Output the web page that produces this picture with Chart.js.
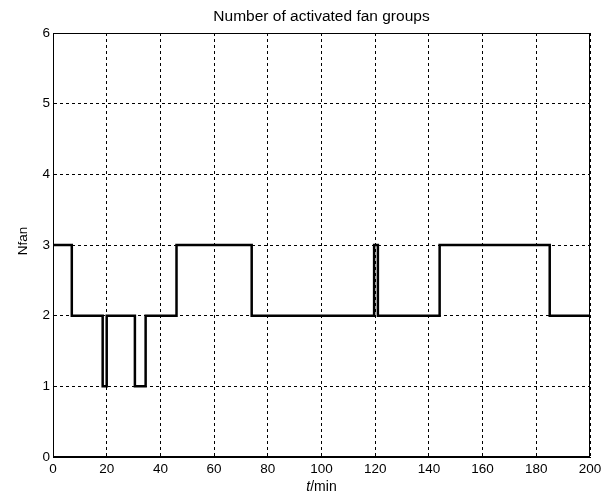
<!DOCTYPE html>
<html><head><meta charset="utf-8">
<script src="https://cdn.jsdelivr.net/npm/chart.js@4/dist/chart.umd.min.js"></script>
<style>html,body{margin:0;padding:0;background:#fff}#wrap{width:612px;height:498px}</style>
</head><body><div id="wrap"><canvas id="c" width="612" height="498"></canvas></div>
<script>
const changeTimes = [0, 7, 18.5, 20, 30.5, 34.5, 46, 74, 119.6, 121, 144, 185, 200];
const fanCounts  = [3, 2, 1, 2, 1, 2, 3, 2, 3, 2, 3, 2, 2];
const xTicks = [0,20,40,60,80,100,120,140,160,180,200];
const yTicks = [0,1,2,3,4,5,6];
const titleText = 'Number of activated fan groups';
const yLabel = 'Nfan';
const xLabelItalic = 't';
const xLabelRest = '/min';

const FONT = '"Liberation Sans", Arial, sans-serif';
const textPlugin = {
  id: 'texts',
  afterDraw(chart) {
    const ctx = chart.ctx, a = chart.chartArea;
    ctx.save();
    ctx.fillStyle = '#000';
    ctx.font = '15.5px ' + FONT;
    ctx.textAlign = 'center'; ctx.textBaseline = 'middle';
    ctx.fillText(titleText, (a.left + a.right) / 2, 17);
    // x label with italic t
    ctx.font = 'italic 14px ' + FONT;
    const w1 = ctx.measureText(xLabelItalic).width;
    ctx.font = '14px ' + FONT;
    const w2 = ctx.measureText(xLabelRest).width;
    const cx = (a.left + a.right) / 2, start = cx - (w1 + w2) / 2;
    ctx.textAlign = 'left';
    ctx.font = 'italic 14px ' + FONT;
    ctx.fillText(xLabelItalic, start, 487);
    ctx.font = '14px ' + FONT;
    ctx.fillText(xLabelRest, start + w1, 487);
    // y label
    ctx.translate(23, 241);
    ctx.rotate(-Math.PI / 2);
    ctx.textAlign = 'center';
    ctx.font = '13.5px ' + FONT;
    ctx.fillText(yLabel, 0, 0);
    ctx.restore();
  }
};

new Chart(document.getElementById('c'), {
  type: 'line',
  data: {
    datasets: [{
      data: changeTimes.map((t, i) => ({x: t, y: fanCounts[i]})),
      stepped: 'before',
      borderColor: '#000',
      borderWidth: 2.5,
      pointRadius: 0,
      fill: false
    }]
  },
  options: {
    responsive: false,
    animation: false,
    devicePixelRatio: 1,
    layout: {padding: {top: 33, right: 22, bottom: 0, left: 0}},
    plugins: {legend: {display: false}, tooltip: {enabled: false}, title: {display: false}},
    scales: {
      x: {
        type: 'linear', min: 0, max: 200,
        afterFit(s) { s.height = 41; },
        afterBuildTicks(s) { s.ticks = xTicks.map(v => ({value: v})); },
        ticks: {color: '#000', font: {family: FONT, size: 13.5}, padding: 4, maxRotation: 0},
        grid: {color: '#000', lineWidth: 1, drawTicks: false},
        border: {display: true, color: '#000', width: 1, dash: [3, 3]}
      },
      y: {
        min: 0, max: 6,
        afterFit(s) { s.width = 53; },
        afterBuildTicks(s) { s.ticks = yTicks.map(v => ({value: v})); },
        ticks: {color: '#000', font: {family: FONT, size: 13.5}, padding: 3},
        grid: {color: '#000', lineWidth: 1, drawTicks: false},
        border: {display: true, color: '#000', width: 1, dash: [3, 3]}
      }
    }
  },
  plugins: [textPlugin, {
    id: 'frame',
    beforeDatasetsDraw(chart) {
      const ctx = chart.ctx, a = chart.chartArea;
      ctx.save();
      ctx.strokeStyle = '#000'; ctx.lineWidth = 1; ctx.setLineDash([]);
      ctx.strokeRect(a.left + 0.5, a.top + 0.5, a.right - a.left - 1, a.bottom - a.top - 1);
      ctx.restore();
    }
  }]
});
</script></body></html>
